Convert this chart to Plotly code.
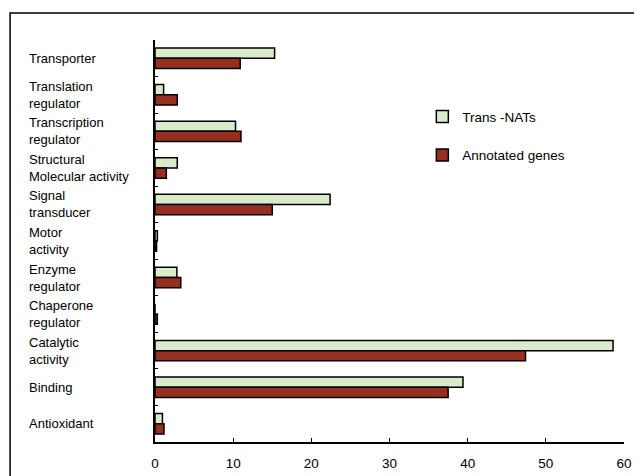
import plotly.graph_objects as go

categories = ["Transporter", "Translation regulator", "Transcription regulator",
              "Structural Molecular activity", "Signal transducer", "Motor activity",
              "Enzyme regulator", "Chaperone regulator", "Catalytic activity",
              "Binding", "Antioxidant"]
label_text = ["Transporter", "Translation<br>regulator", "Transcription<br>regulator",
              "Structural<br>Molecular activity", "Signal<br>transducer", "Motor<br>activity",
              "Enzyme<br>regulator", "Chaperone<br>regulator", "Catalytic<br>activity",
              "Binding", "Antioxidant"]
trans_nats = [15.3, 1.1, 10.3, 2.85, 22.4, 0.3, 2.8, 0.0, 58.6, 39.4, 0.95]
annotated = [10.9, 2.85, 11.0, 1.45, 15.0, 0.2, 3.3, 0.3, 47.4, 37.5, 1.15]
x_ticks = [0, 10, 20, 30, 40, 50, 60]

FONT = "Liberation Sans, Arial, sans-serif"
fig = go.Figure()
fig.add_trace(go.Bar(y=categories, x=trans_nats, orientation="h", name="Trans -NATs",
                     legendgroup="a",
                     marker=dict(color="#daebcb", line=dict(color="black", width=1.5))))
fig.add_trace(go.Bar(y=categories, x=annotated, orientation="h", name="Annotated genes",
                     legendgroup="b",
                     marker=dict(color="#962f20", line=dict(color="black", width=1.5))))

annots = []
for cat, txt in zip(categories, label_text):
    annots.append(dict(x=-0.2735, xref="paper", y=cat, yref="y", text=txt,
                       xanchor="left", yanchor="middle", align="left", showarrow=False,
                       font=dict(size=13, color="black", family=FONT)))

# page body has an 8px margin: shrink the figure so the plot area lands where the reference has it
fig.update_layout(
    width=634, height=468,
    margin=dict(l=147, r=18, t=32, b=34, autoexpand=False),
    paper_bgcolor="white", plot_bgcolor="white",
    barmode="group", bargap=0.44, bargroupgap=0.0,
    font=dict(family=FONT, size=13.5, color="black"),
    showlegend=True,
    legend=dict(x=0.57, y=0.848, xanchor="left", yanchor="top",
                bgcolor="rgba(0,0,0,0)", tracegroupgap=18,
                font=dict(size=13.5, family=FONT)),
    annotations=annots,
    shapes=[dict(type="rect", xref="paper", yref="paper", x0=-0.309, x1=1.036,
                 y0=-0.2, y1=1.067, line=dict(color="black", width=1.5),
                 fillcolor="rgba(0,0,0,0)", layer="below")],
)
fig.update_xaxes(range=[0, 60], tickvals=x_ticks, ticktext=[str(v) for v in x_ticks],
                 automargin=False,
                 showgrid=False, zeroline=False, showline=True, linecolor="black",
                 linewidth=1.5, ticks="inside", ticklen=4, tickwidth=1.2,
                 tickcolor="black", ticklabelstandoff=8,
                 tickfont=dict(size=13.5, family=FONT))
fig.update_yaxes(categoryorder="array", categoryarray=categories, autorange="reversed",
                 automargin=False,
                 showgrid=False, zeroline=False, showline=True, linecolor="black",
                 linewidth=1.5, ticks="inside", ticklen=3, tickwidth=1.2,
                 tickcolor="black", tickson="boundaries", showticklabels=False)

fig.write_html("out.html")
